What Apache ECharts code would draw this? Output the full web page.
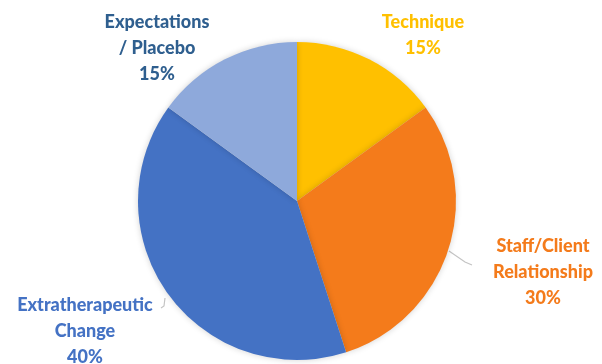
<!DOCTYPE html>
<html><head><meta charset="utf-8">
<script src="https://cdn.jsdelivr.net/npm/echarts@6/dist/echarts.min.js"></script>
<style>html,body{margin:0;padding:0;background:#fff}#c{width:602px;height:364px}</style>
</head><body><div id="c"></div>
<script>
const categories = ['Technique', 'Staff/Client Relationship', 'Extratherapeutic Change', 'Expectations / Placebo'];
const labelTexts = ['Technique', 'Staff/Client\nRelationship', 'Extratherapeutic\nChange', 'Expectations\n/ Placebo'];
const values = [15, 30, 40, 15];
const colors = ['#FFC000', '#F47B1B', '#4472C4', '#8EA9DB'];
const labelColors = ['#FFC000', '#F47B1B', '#4472C4', '#2F5F8F'];
const labelPos = [[423, 35], [543, 272], [85, 331], [157, 48]];
const leaderPoints = [null, [[449, 251], [465, 262], [472, 265]], [[165, 298], [164, 306], [161, 308]], null];

const chart = echarts.init(document.getElementById('c'), null, {renderer: 'canvas'});
chart.setOption({
  animation: false,
  series: [{
    type: 'pie',
    center: [297, 201],
    radius: 159,
    startAngle: 90,
    clockwise: true,
    data: categories.map((c, i) => ({
      name: c, value: values[i],
      itemStyle: {color: colors[i]},
      label: {color: labelColors[i]},
      labelLine: {show: !!leaderPoints[i]}
    })),
    itemStyle: {shadowBlur: 6, shadowColor: 'rgba(0,0,0,0.18)'},
    label: {
      show: true,
      position: 'outside',
      overflow: 'none',
      formatter: p => labelTexts[p.dataIndex] + '\n' + p.value + '%',
      fontFamily: 'Lato',
      fontWeight: 900,
      fontSize: 18,
      lineHeight: 26,
      align: 'center'
    },
    labelLine: {length: 10, length2: 10, lineStyle: {color: '#c4c4c4', width: 1.2}},
    labelLayout: p => {
      const o = {
        x: labelPos[p.dataIndex][0],
        y: labelPos[p.dataIndex][1],
        align: 'center',
        verticalAlign: 'middle'
      };
      if (leaderPoints[p.dataIndex]) o.labelLinePoints = leaderPoints[p.dataIndex];
      return o;
    }
  }]
});
</script></body></html>
